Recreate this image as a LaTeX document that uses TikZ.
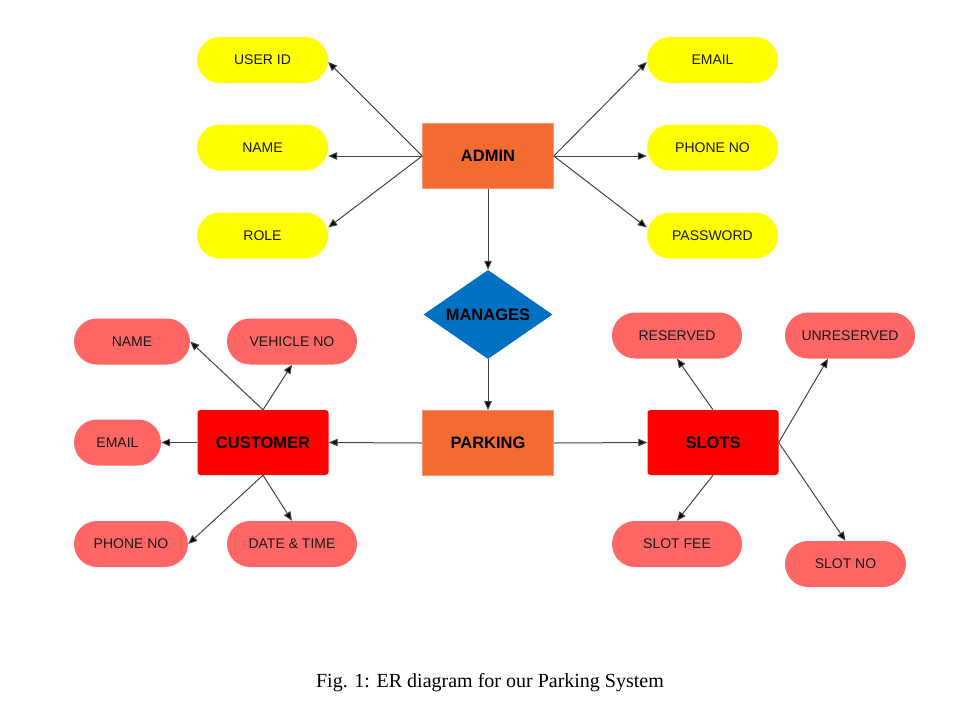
\documentclass[tikz,border=0pt]{standalone}
\usepackage{fontspec}
\setmainfont{Liberation Serif}
\newfontfamily\arialf{Liberation Sans}
\usetikzlibrary{shapes.geometric,arrows.meta,calc}
\definecolor{attryel}{HTML}{FFFF00}
\definecolor{attrred}{HTML}{FF6666}
\definecolor{entorange}{HTML}{F46B32}
\definecolor{entred}{HTML}{FF0000}
\definecolor{relblue}{HTML}{0070C0}
\definecolor{linegray}{HTML}{444444}
\tikzset{
  attr/.style={rounded corners=23pt, minimum height=46pt, inner sep=0pt,
    font=\arialf\fontsize{14}{16}\selectfont, text=black!90},
  yattr/.style={attr, fill=attryel, minimum width=131pt},
  rattr/.style={attr, fill=attrred},
  entity/.style={minimum width=131pt, minimum height=65pt, inner sep=0pt,
    font=\arialf\bfseries\fontsize{16.5}{18}\selectfont},
  oent/.style={entity, fill=entorange, draw=entorange!70!white, line width=0.6pt},
  rent/.style={entity, fill=entred, rounded corners=3pt},
  rel/.style={diamond, aspect=1.45, fill=relblue, minimum width=129pt, minimum height=89pt,
    inner sep=0pt, font=\arialf\bfseries\fontsize{16.5}{18}\selectfont},
  conn/.style={draw=linegray, line width=1pt, -{Triangle[length=9pt,width=7.5pt,fill=black]}}
}
\begin{document}
\begin{tikzpicture}[x=1pt,y=-1pt]
\useasboundingbox (0,0) rectangle (953,713);
% admin part
\node[oent] (admin) at (488,156) {ADMIN};
\node[yattr] (userid) at (262.5,60) {USER ID};
\node[yattr] (aname) at (262.5,147.5) {NAME};
\node[yattr] (role) at (262.5,235.5) {ROLE};
\node[yattr] (aemail) at (712.5,60) {EMAIL};
\node[yattr] (aphone) at (712.5,147.5) {PHONE NO};
\node[yattr] (pass) at (712.5,235.5) {PASSWORD};
\node[rel] (manages) at (488,314.5) {MANAGES};
\node[oent] (parking) at (488,443) {PARKING};
% customer
\node[rent] (customer) at (263,442.5) {CUSTOMER};
\node[rattr, minimum width=116pt] (cname) at (132,341.5) {NAME};
\node[rattr, minimum width=130pt] (vehicle) at (292,341.5) {VEHICLE NO};
\node[rattr, minimum width=87pt] (cemail) at (117.5,442.5) {EMAIL};
\node[rattr, minimum width=114pt] (cphone) at (131,544) {PHONE NO};
\node[rattr, minimum width=130pt] (datetime) at (292,544) {DATE \& TIME};
% slots
\node[rent] (slots) at (713,442.5) {SLOTS};
\node[rattr, minimum width=130pt] (reserved) at (677,335.5) {RESERVED};
\node[rattr, minimum width=130pt] (unreserved) at (850,335.5) {UNRESERVED};
\node[rattr, minimum width=130pt] (slotfee) at (677,544) {SLOT FEE};
\node[rattr, minimum width=121pt] (slotno) at (845.5,564) {SLOT NO};
% caption
\node[font=\fontsize{20}{22}\selectfont] (caption) at (490,683) {Fig. 1: ER diagram for our Parking System};
% connectors
\draw[conn] (admin.west) -- ($(userid.east)+(0,2)$);
\draw[conn] (admin.west) -- ($(aname.east)+(0,8.5)$);
\draw[conn] (admin.west) -- ($(role.east)+(0,-8)$);
\draw[conn] (admin.east) -- ($(aemail.west)+(0,2)$);
\draw[conn] (admin.east) -- ($(aphone.west)+(0,8.5)$);
\draw[conn] (admin.east) -- ($(pass.west)+(0,-8)$);
\draw[conn] (admin.south) -- (manages.north);
\draw[conn] (manages.south) -- (parking.north);
\draw[conn] (parking.west) -- (customer.east);
\draw[conn] (parking.east) -- (slots.west);
\draw[conn] (customer.north) -- (cname.east);
\draw[conn] (customer.north) -- (vehicle.south);
\draw[conn] (customer.west) -- (cemail.east);
\draw[conn] (customer.south) -- (cphone.east);
\draw[conn] (customer.south) -- (datetime.north);
\draw[conn] (slots.north) -- (reserved.south);
\draw[conn] (slots.east) -- ($(unreserved.south)+(-22,0)$);
\draw[conn] (slots.east) -- (slotno.north);
\draw[conn] (slots.south) -- (slotfee.north);
\end{tikzpicture}
\end{document}
